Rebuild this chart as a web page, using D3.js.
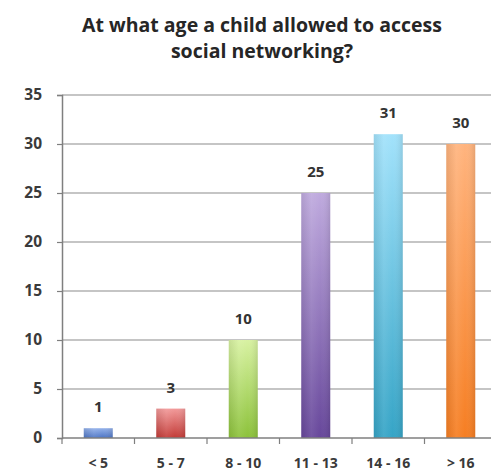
<!DOCTYPE html>
<html><head><meta charset="utf-8">
<script src="https://cdn.jsdelivr.net/npm/d3@7"></script>
<style>
html,body{margin:0;padding:0;background:#fff;}
svg{display:block;}
</style></head>
<body>
<svg id="chart" width="491" height="473"></svg>
<script>
const titleLines = ["At what age a child allowed to access", "social networking?"];
const categories = ["< 5", "5 - 7", "8 - 10", "11 - 13", "14 - 16", "> 16"];
const values = [1, 3, 10, 25, 31, 30];
const yTicks = [0, 5, 10, 15, 20, 25, 30, 35];
const topColors = ["#93b1ea", "#f29a9a", "#d8f2a2", "#bfaade", "#a2e2fb", "#ffb47e"];
const bottomColors = ["#4c74c4", "#c23a36", "#8cc23a", "#67479b", "#35a4c6", "#f67e22"];

const svg = d3.select("#chart");
const W = 491, H = 473;
const m = {left: 62, top: 95, bottom: 438, right: 497};

const x = d3.scaleBand().domain(categories).range([m.left, m.right]).paddingInner(0).paddingOuter(0);
const y = d3.scaleLinear().domain([0, 35]).range([m.bottom, m.top]);

const defs = svg.append("defs");
categories.forEach((c, i) => {
  const g = defs.append("linearGradient").attr("id", "g" + i)
    .attr("x1", 0).attr("y1", 0).attr("x2", 0).attr("y2", 1);
  g.append("stop").attr("offset", "0%").attr("stop-color", topColors[i]);
  g.append("stop").attr("offset", "100%").attr("stop-color", bottomColors[i]);
});
const hg = defs.append("linearGradient").attr("id", "hshade")
  .attr("x1", 0).attr("y1", 0).attr("x2", 1).attr("y2", 0);
hg.append("stop").attr("offset", "0%").attr("stop-color", "#000").attr("stop-opacity", 0.08);
hg.append("stop").attr("offset", "35%").attr("stop-color", "#fff").attr("stop-opacity", 0.08);
hg.append("stop").attr("offset", "65%").attr("stop-color", "#fff").attr("stop-opacity", 0.0);
hg.append("stop").attr("offset", "100%").attr("stop-color", "#000").attr("stop-opacity", 0.1);

// title
svg.append("g").selectAll("text").data(titleLines).join("text")
  .attr("x", 262).attr("y", (d, i) => 32 + i * 26)
  .attr("text-anchor", "middle")
  .attr("font-family", "Open Sans, sans-serif").attr("font-weight", "bold")
  .attr("font-size", 19.5).attr("fill", "#262626")
  .text(d => d);

// gridlines
svg.append("g").selectAll("line").data(yTicks.filter(t => t > 0)).join("line")
  .attr("x1", m.left).attr("x2", W).attr("y1", d => y(d)).attr("y2", d => y(d))
  .attr("stroke", "#8c8c8c").attr("stroke-width", 1.2);

// y axis
const yAxis = svg.append("g").attr("transform", `translate(${m.left},0)`)
  .call(d3.axisLeft(y).tickValues(yTicks).tickSize(5).tickPadding(15));
yAxis.select(".domain").attr("stroke", "#7f7f7f").attr("stroke-width", 1.5);
yAxis.selectAll(".tick line").attr("stroke", "#7f7f7f").attr("stroke-width", 1.2);
yAxis.selectAll("text").attr("font-family", "Open Sans, sans-serif").attr("font-weight", "bold")
  .attr("font-size", 15.5).attr("fill", "#3a3a3a");

// bars
const bw = x.bandwidth() * 0.4;
const bars = svg.append("g");
bars.selectAll("rect.bar").data(values).join("rect").attr("class", "bar")
  .attr("x", (d, i) => x(categories[i]) + (x.bandwidth() - bw) / 2)
  .attr("width", bw)
  .attr("y", d => y(d)).attr("height", d => y(0) - y(d))
  .attr("fill", (d, i) => `url(#g${i})`);
bars.selectAll("rect.shade").data(values).join("rect").attr("class", "shade")
  .attr("x", (d, i) => x(categories[i]) + (x.bandwidth() - bw) / 2)
  .attr("width", bw)
  .attr("y", d => y(d)).attr("height", d => y(0) - y(d))
  .attr("fill", "url(#hshade)");

// x axis
const xAxis = svg.append("g").attr("transform", `translate(0,${m.bottom})`)
  .call(d3.axisBottom(x).tickSize(0).tickPadding(20));
xAxis.select(".domain").remove();
xAxis.append("line").attr("x1", m.left).attr("x2", W).attr("y1", 0).attr("y2", 0)
  .attr("stroke", "#7f7f7f").attr("stroke-width", 1.5);
xAxis.selectAll("line.sep").data(categories).join("line").attr("class", "sep")
  .attr("x1", d => x(d)).attr("x2", d => x(d)).attr("y1", 0).attr("y2", 6)
  .attr("stroke", "#7f7f7f").attr("stroke-width", 1.2);
xAxis.selectAll(".tick text").attr("font-family", "Open Sans, sans-serif").attr("font-weight", "bold")
  .attr("font-size", 14).attr("fill", "#3a3a3a");

// data labels
svg.append("g").selectAll("text").data(values).join("text")
  .attr("x", (d, i) => x(categories[i]) + x.bandwidth() / 2)
  .attr("y", d => y(d) - 16)
  .attr("text-anchor", "middle")
  .attr("font-family", "Open Sans, sans-serif").attr("font-weight", "bold")
  .attr("font-size", 15).attr("fill", "#333")
  .text(d => d);
</script>
</body></html>
